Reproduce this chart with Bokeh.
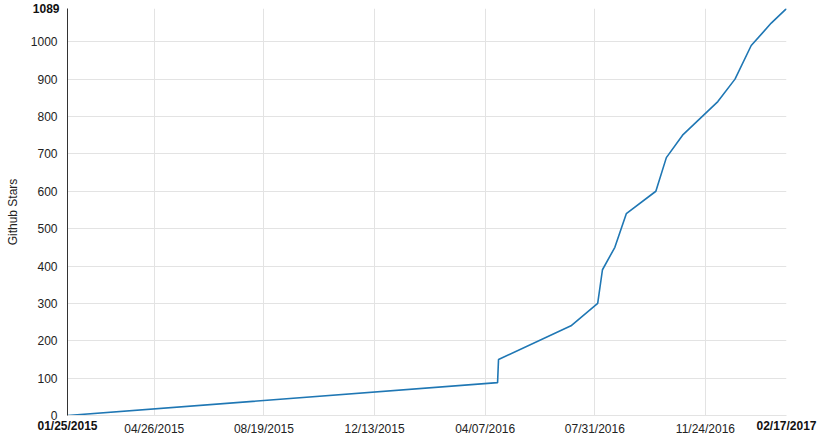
import pandas as pd
from bokeh.plotting import figure
from bokeh.models import Range1d, FixedTicker, DatetimeAxis, LinearAxis
from bokeh.embed import file_html
from bokeh.resources import INLINE

dates = ["2015-01-25", "2016-04-20", "2016-04-21", "2016-07-06", "2016-08-03",
         "2016-08-08", "2016-08-21", "2016-09-02", "2016-10-03", "2016-10-14",
         "2016-10-31", "2016-12-07", "2016-12-25", "2017-01-11", "2017-02-01",
         "2017-02-17"]
stars = [0, 88, 150, 240, 300, 390, 450, 540, 600, 690, 750, 840, 900, 990, 1050, 1089]

x_tick_dates = ["2015-01-25", "2015-04-26", "2015-08-19", "2015-12-13",
                "2016-04-07", "2016-07-31", "2016-11-24", "2017-02-17"]
x_tick_labels = ["01/25/2015", "04/26/2015", "08/19/2015", "12/13/2015",
                 "04/07/2016", "07/31/2016", "11/24/2016", "02/17/2017"]
y_ticks = [0, 100, 200, 300, 400, 500, 600, 700, 800, 900, 1000]
y_max = 1089

FONT = "Liberation Sans"
TXT = "#222222"
GRID = "#e3e3e3"

def ms(d):
    return pd.Timestamp(d).value / 1e6

x = pd.to_datetime(dates)
x_ms = [ms(d) for d in x_tick_dates]
x_start, x_end = x_ms[0], x_ms[-1]

p = figure(output_backend="svg", toolbar_location=None, x_axis_type="datetime",
           frame_width=719, frame_height=407, min_border_left=67,
           min_border_right=33, min_border_top=8, min_border_bottom=27,
           x_range=Range1d(x_start, x_end), y_range=Range1d(0, y_max))
p.outline_line_color = None

p.line(x, stars, line_color="#1f77b4", line_width=1.6)

def style(ax, bold=False):
    ax.major_tick_line_color = None
    ax.minor_tick_line_color = None
    ax.major_tick_out = 0
    ax.major_tick_in = 0
    ax.minor_tick_out = 0
    ax.minor_tick_in = 0
    ax.major_label_text_font = FONT
    ax.major_label_text_font_size = "12px"
    ax.major_label_text_color = "#111111" if bold else TXT
    ax.major_label_text_font_style = "bold" if bold else "normal"

# inner x axis: bold end labels
xa = p.xaxis[0]
xa.ticker = FixedTicker(ticks=[x_start, x_end])
xa.major_label_overrides = {x_start: x_tick_labels[0], x_end: x_tick_labels[-1]}
style(xa, bold=True)
xa.axis_line_color = GRID
xa.major_label_standoff = 3

# outer x axis: regular labels on the same line
xb = DatetimeAxis(ticker=FixedTicker(ticks=x_ms[1:-1]),
                  major_label_overrides={v: l for v, l in zip(x_ms[1:-1], x_tick_labels[1:-1])})
style(xb)
xb.axis_line_color = None
xb.major_label_standoff = -14
p.add_layout(xb, "below")

# inner y axis: bold max label
ya = p.yaxis[0]
ya.ticker = FixedTicker(ticks=[y_max])
style(ya, bold=True)
ya.axis_line_color = "#333333"
ya.major_label_standoff = 8

# outer y axis: regular labels on the same column
yb = LinearAxis(ticker=FixedTicker(ticks=y_ticks))
style(yb)
yb.axis_line_color = None
yb.major_label_standoff = -28
yb.axis_label = "Github Stars"
yb.axis_label_text_font = FONT
yb.axis_label_text_font_size = "12px"
yb.axis_label_text_font_style = "normal"
yb.axis_label_text_color = TXT
yb.axis_label_standoff = 8
p.add_layout(yb, "left")

p.xgrid.ticker = FixedTicker(ticks=x_ms[1:-1])
p.ygrid.ticker = FixedTicker(ticks=y_ticks)
p.xgrid.grid_line_color = GRID
p.ygrid.grid_line_color = GRID

open("out.html", "w").write(file_html(p, INLINE))
